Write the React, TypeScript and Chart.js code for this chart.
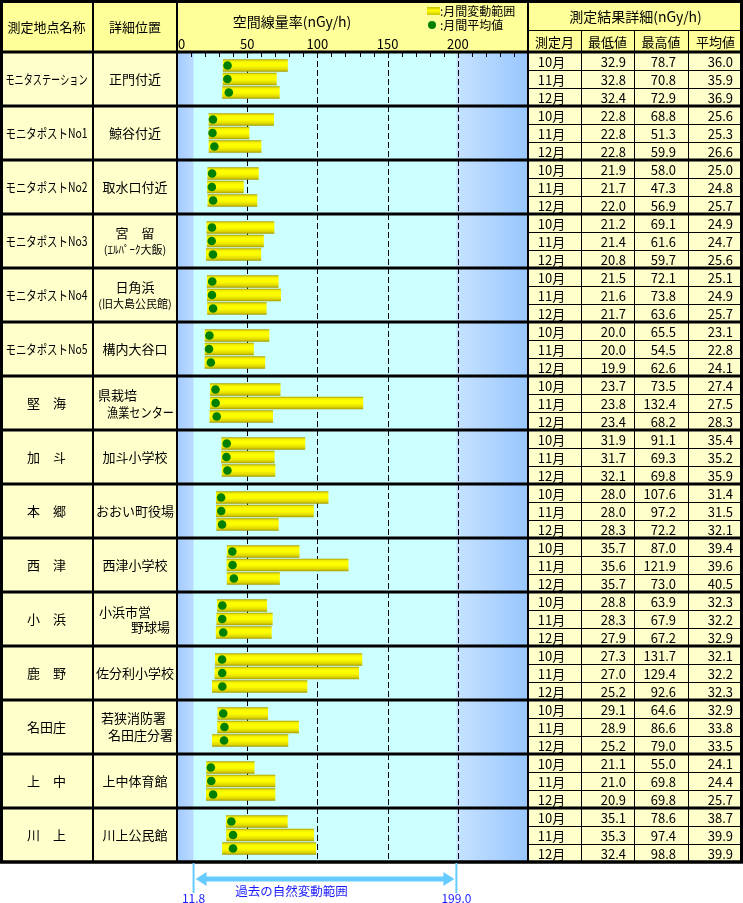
import { useEffect, useRef } from 'react'
import { Chart, registerables } from 'chart.js'

Chart.register(...registerables)

const STATIONS = [
  'モニタステーション', 'モニタポストNo1', 'モニタポストNo2', 'モニタポストNo3', 'モニタポストNo4',
  'モニタポストNo5', '堅　海', '加　斗', '本　郷', '西　津', '小　浜', '鹿　野', '名田庄', '上　中', '川　上',
]

const DETAILS = [
  ['正門付近'], ['鯨谷付近'], ['取水口付近'], ['宮　留', '(ｴﾙﾊﾟｰｸ大飯)'], ['日角浜', '(旧大島公民館)'],
  ['構内大谷口'], ['県栽培', '漁業センター'], ['加斗小学校'], ['おおい町役場'], ['西津小学校'],
  ['小浜市営', '野球場'], ['佐分利小学校'], ['若狭消防署', '名田庄分署'], ['上中体育館'], ['川上公民館'],
]

const MONTHS = ['10月', '11月', '12月']

// per station: 10月, 11月, 12月
const MIN_VALUES = [
  [32.9, 32.8, 32.4], [22.8, 22.8, 22.8], [21.9, 21.7, 22.0], [21.2, 21.4, 20.8], [21.5, 21.6, 21.7],
  [20.0, 20.0, 19.9], [23.7, 23.8, 23.4], [31.9, 31.7, 32.1], [28.0, 28.0, 28.3], [35.7, 35.6, 35.7],
  [28.8, 28.3, 27.9], [27.3, 27.0, 25.2], [29.1, 28.9, 25.2], [21.1, 21.0, 20.9], [35.1, 35.3, 32.4],
]
const MAX_VALUES = [
  [78.7, 70.8, 72.9], [68.8, 51.3, 59.9], [58.0, 47.3, 56.9], [69.1, 61.6, 59.7], [72.1, 73.8, 63.6],
  [65.5, 54.5, 62.6], [73.5, 132.4, 68.2], [91.1, 69.3, 69.8], [107.6, 97.2, 72.2], [87.0, 121.9, 73.0],
  [63.9, 67.9, 67.2], [131.7, 129.4, 92.6], [64.6, 86.6, 79.0], [55.0, 69.8, 69.8], [78.6, 97.4, 98.8],
]
const AVG_VALUES = [
  [36.0, 35.9, 36.9], [25.6, 25.3, 26.6], [25.0, 24.8, 25.7], [24.9, 24.7, 25.6], [25.1, 24.9, 25.7],
  [23.1, 22.8, 24.1], [27.4, 27.5, 28.3], [35.4, 35.2, 35.9], [31.4, 31.5, 32.1], [39.4, 39.6, 40.5],
  [32.3, 32.2, 32.9], [32.1, 32.2, 32.3], [32.9, 33.8, 33.5], [24.1, 24.4, 25.7], [38.7, 39.9, 39.9],
]

const X_TICKS = [0, 50, 100, 150, 200]
const MINOR_STEP = 10
const NATURAL_MIN = 11.8
const NATURAL_MAX = 199.0

// layout
const W = 743
const H = 903
const COL_NAME = 93
const COL_PLOT = 177
const COL_TABLE = 528
const COL_MIN = 581
const COL_MAX = 634
const COL_AVG = 688
const HEAD_SPLIT = 30
const FONT = '"Noto Sans CJK JP", "Noto Sans", sans-serif'
const HEAD_BG = '#ffff99'
const CELL_BG = '#ffffcc'
const PLOT_BG = '#ccffff'
const ANNO = '#66ccff'
const ANNO_TEXT = '#1a1aff'
const BAR_H = 12

// detail cell line layout per station
const DETAIL_STYLE = ['c', 'c', 'c', 'sub', 'sub', 'c', 'indent', 'c', 'c', 'c', 'right', 'c', 'stagger', 'c', 'c']

const SLOT = 0.25
const rowPos = (s: number, m: number) => s + (m - 1) * SLOT

function barFill(ctx: any) {
  const chart = ctx.chart
  const raw = ctx.raw
  const yScale = chart?.scales?.y
  if (!raw || !yScale) return '#f4f000'
  const yc = yScale.getPixelForValue(raw.y)
  if (!Number.isFinite(yc)) return '#f4f000'
  const g = chart.ctx.createLinearGradient(0, yc - BAR_H / 2, 0, yc + BAR_H / 2)
  g.addColorStop(0, '#b0a800')
  g.addColorStop(0.12, '#eeea00')
  g.addColorStop(0.3, '#ffff00')
  g.addColorStop(0.55, '#fbfb00')
  g.addColorStop(0.85, '#dcd400')
  g.addColorStop(1, '#a8a000')
  return g
}

const tablePlugin = {
  id: 'radTable',
  beforeDraw(chart: any) {
    const { ctx, chartArea: a, scales } = chart
    const x = scales.x
    ctx.save()
    ctx.fillStyle = '#ffffff'
    ctx.fillRect(0, 0, W, H)
    ctx.fillStyle = HEAD_BG
    ctx.fillRect(0, 0, W, a.top)
    ctx.fillStyle = CELL_BG
    ctx.fillRect(0, a.top, a.left, a.bottom - a.top)
    ctx.fillRect(a.right, a.top, W - a.right, a.bottom - a.top)
    ctx.fillStyle = PLOT_BG
    ctx.fillRect(a.left, a.top, a.right - a.left, a.bottom - a.top)

    const lo = x.getPixelForValue(NATURAL_MIN)
    const hi = x.getPixelForValue(NATURAL_MAX)
    let g = ctx.createLinearGradient(a.left, 0, lo, 0)
    g.addColorStop(0, '#a2caff')
    g.addColorStop(1, '#bcdcff')
    ctx.fillStyle = g
    ctx.fillRect(a.left, a.top, lo - a.left, a.bottom - a.top)
    g = ctx.createLinearGradient(hi, 0, a.right, 0)
    g.addColorStop(0, '#c6e2ff')
    g.addColorStop(1, '#98c6ff')
    ctx.fillStyle = g
    ctx.fillRect(hi, a.top, a.right - hi, a.bottom - a.top)

    // dashed grid
    ctx.strokeStyle = '#000'
    ctx.lineWidth = 1
    ctx.setLineDash([6, 3])
    for (const v of X_TICKS) {
      if (v === x.min) continue
      const px = Math.round(x.getPixelForValue(v)) + 0.5
      ctx.beginPath()
      ctx.moveTo(px, a.top)
      ctx.lineTo(px, a.bottom)
      ctx.stroke()
    }
    ctx.setLineDash([])
    // minor ticks
    for (let v = x.min + MINOR_STEP; v < x.max; v += MINOR_STEP) {
      const px = Math.round(x.getPixelForValue(v)) + 0.5
      ctx.beginPath()
      ctx.moveTo(px, a.top)
      ctx.lineTo(px, a.top + 5)
      ctx.stroke()
    }
    ctx.restore()
  },
  afterDraw(chart: any) {
    const { ctx, chartArea: a, scales } = chart
    const x = scales.x
    const y = scales.y
    ctx.save()
    ctx.fillStyle = '#000'
    ctx.textBaseline = 'middle'

    // header texts
    ctx.textAlign = 'center'
    ctx.font = `13px ${FONT}`
    ctx.fillText('測定地点名称', COL_NAME / 2, 27)
    ctx.fillText('詳細位置', (COL_NAME + COL_PLOT) / 2, 27)
    ctx.font = `14px ${FONT}`
    ctx.fillText('空間線量率(nGy/h)', a.left + 115, 22)
    ctx.fillText('測定結果詳細(nGy/h)', (COL_TABLE + W) / 2, 17)
    ctx.font = `13px ${FONT}`
    const subCols = [COL_TABLE, COL_MIN, COL_MAX, COL_AVG, W]
    const subHeads = ['測定月', '最低値', '最高値', '平均値']
    subHeads.forEach((t, i) => ctx.fillText(t, (subCols[i] + subCols[i + 1]) / 2, 42))

    // x tick labels
    ctx.font = `13px ${FONT}`
    for (const v of X_TICKS) {
      const px = x.getPixelForValue(v)
      if (v === x.min) {
        ctx.textAlign = 'left'
        ctx.fillText(String(v), px + 1, 44)
      } else {
        ctx.textAlign = 'center'
        ctx.fillText(String(v), px, 44)
      }
    }

    // legend
    const lx = 427
    const lg = ctx.createLinearGradient(0, 7, 0, 16)
    lg.addColorStop(0, '#c8c000')
    lg.addColorStop(0.4, '#ffff00')
    lg.addColorStop(1, '#c0b800')
    ctx.fillStyle = lg
    ctx.fillRect(lx, 7, 13, 8)
    ctx.fillStyle = '#008000'
    ctx.beginPath()
    ctx.arc(lx + 5, 25, 4, 0, Math.PI * 2)
    ctx.fill()
    ctx.fillStyle = '#000'
    ctx.textAlign = 'left'
    ctx.font = `12px ${FONT}`
    ctx.fillText(':月間変動範囲', lx + 13, 11)
    ctx.fillText(':月間平均値', lx + 13, 25)

    // station rows
    STATIONS.forEach((name, s) => {
      const yc = y.getPixelForValue(s)
      ctx.font = `13px ${FONT}`
      ctx.textAlign = 'center'
      ctx.fillText(name, COL_NAME / 2, yc, 82)

      const lines = DETAILS[s]
      const style = DETAIL_STYLE[s]
      const dc = (COL_NAME + COL_PLOT) / 2
      if (style === 'c') {
        ctx.fillText(lines[0], dc, yc, 78)
      } else if (style === 'sub') {
        ctx.fillText(lines[0], dc, yc - 8)
        ctx.font = `11px ${FONT}`
        ctx.fillText(lines[1], dc, yc + 9, 76)
      } else if (style === 'indent') {
        ctx.textAlign = 'left'
        ctx.fillText(lines[0], 98, yc - 8)
        ctx.fillText(lines[1], 107, yc + 9, 67)
      } else if (style === 'right') {
        ctx.textAlign = 'left'
        ctx.fillText(lines[0], 99, yc - 7)
        ctx.textAlign = 'right'
        ctx.fillText(lines[1], 170, yc + 8)
      } else {
        ctx.textAlign = 'left'
        ctx.fillText(lines[0], 101, yc - 9)
        ctx.fillText(lines[1], 108, yc + 8)
      }

      ctx.font = `13px ${FONT}`
      for (let m = 0; m < 3; m++) {
        const top = y.getPixelForValue(s - 0.5 + m / 3)
        const bot = y.getPixelForValue(s - 0.5 + (m + 1) / 3)
        const ty = (top + bot) / 2 + 1
        ctx.textAlign = 'center'
        ctx.fillText(MONTHS[m], (COL_TABLE + COL_MIN) / 2 - 3, ty)
        ctx.textAlign = 'right'
        ctx.fillText(MIN_VALUES[s][m].toFixed(1), COL_MAX - 8, ty)
        ctx.fillText(MAX_VALUES[s][m].toFixed(1), COL_AVG - 12, ty)
        ctx.fillText(AVG_VALUES[s][m].toFixed(1), W - 10, ty)
      }
    })

    // thin lines
    ctx.strokeStyle = '#000'
    ctx.lineWidth = 1
    ctx.beginPath()
    ctx.moveTo(COL_TABLE, HEAD_SPLIT + 0.5)
    ctx.lineTo(W, HEAD_SPLIT + 0.5)
    for (const cx of [COL_MIN, COL_MAX, COL_AVG]) {
      ctx.moveTo(cx + 0.5, HEAD_SPLIT)
      ctx.lineTo(cx + 0.5, a.bottom)
    }
    STATIONS.forEach((_, s) => {
      for (let m = 1; m < 3; m++) {
        const py = Math.round(y.getPixelForValue(s - 0.5 + m / 3)) + 0.5
        ctx.moveTo(a.right, py)
        ctx.lineTo(W, py)
      }
    })
    ctx.stroke()

    // thick lines
    ctx.lineWidth = 3
    ctx.beginPath()
    for (let s = 0; s <= STATIONS.length; s++) {
      const py = Math.round(y.getPixelForValue(s - 0.5))
      ctx.moveTo(0, py)
      ctx.lineTo(W, py)
    }
    ctx.stroke()
    ctx.lineWidth = 2
    ctx.beginPath()
    for (const cx of [COL_NAME, COL_PLOT, COL_TABLE]) {
      ctx.moveTo(cx, 0)
      ctx.lineTo(cx, a.bottom)
    }
    ctx.stroke()
    ctx.lineWidth = 3
    ctx.strokeRect(1.5, 1.5, W - 3, a.bottom - 1.5)

    // natural variation range annotation
    const lo = x.getPixelForValue(NATURAL_MIN)
    const hi = x.getPixelForValue(NATURAL_MAX)
    ctx.strokeStyle = ANNO
    ctx.lineWidth = 2
    ctx.beginPath()
    ctx.moveTo(lo, a.bottom + 1)
    ctx.lineTo(lo, a.bottom + 31)
    ctx.moveTo(hi, a.bottom + 1)
    ctx.lineTo(hi, a.bottom + 31)
    ctx.stroke()
    const ay = a.bottom + 17
    ctx.fillStyle = ANNO
    ctx.fillRect(lo + 10, ay - 2.5, hi - lo - 20, 5)
    ctx.beginPath()
    ctx.moveTo(lo + 2, ay)
    ctx.lineTo(lo + 13, ay - 7)
    ctx.lineTo(lo + 13, ay + 7)
    ctx.closePath()
    ctx.moveTo(hi - 2, ay)
    ctx.lineTo(hi - 13, ay - 7)
    ctx.lineTo(hi - 13, ay + 7)
    ctx.closePath()
    ctx.fill()

    ctx.fillStyle = ANNO_TEXT
    ctx.font = `12.5px ${FONT}`
    ctx.textAlign = 'center'
    ctx.fillText('過去の自然変動範囲', lo + 98, a.bottom + 29)
    ctx.font = `12px ${FONT}`
    ctx.fillText(NATURAL_MIN.toFixed(1), lo, a.bottom + 36)
    ctx.fillText(NATURAL_MAX.toFixed(1), hi, a.bottom + 36)
    ctx.restore()
  },
}

export default function App() {
  const canvasRef = useRef<HTMLCanvasElement>(null)
  const chartRef = useRef<Chart | null>(null)

  useEffect(() => {
    const el = canvasRef.current
    if (!el) return
    try { chartRef.current?.destroy() } catch { /* noop */ }

    const bars: any[] = []
    const dots: any[] = []
    STATIONS.forEach((_, s) => {
      for (let m = 0; m < 3; m++) {
        bars.push({ x: [MIN_VALUES[s][m], MAX_VALUES[s][m]], y: rowPos(s, m) })
        dots.push({ x: AVG_VALUES[s][m], y: rowPos(s, m) })
      }
    })

    chartRef.current = new Chart(el, {
      type: 'bar',
      data: {
        datasets: [
          {
            type: 'scatter',
            label: '月間平均値',
            data: dots,
            pointRadius: 4.3,
            backgroundColor: '#008000',
            borderWidth: 0,
            order: 0,
          } as any,
          {
            type: 'bar',
            label: '月間変動範囲',
            indexAxis: 'y',
            data: bars,
            backgroundColor: barFill,
            borderWidth: 0,
            borderSkipped: false,
            barThickness: BAR_H,
            order: 1,
          } as any,
        ],
      },
      options: {
        responsive: false,
        animation: false,
        events: [],
        layout: { padding: { left: COL_PLOT, right: W - COL_TABLE, top: 52, bottom: 41 } },
        plugins: { legend: { display: false }, tooltip: { enabled: false } },
        scales: {
          x: { type: 'linear', min: 0, max: 250, offset: false, grid: { offset: false }, display: false },
          y: {
            type: 'linear', min: -0.5, max: STATIONS.length - 0.5, reverse: true,
            offset: false, grid: { offset: false }, display: false,
          },
        },
      },
      plugins: [tablePlugin],
    })
    return () => { try { chartRef.current?.destroy() } catch { /* noop */ } }
  }, [])

  return (
    <div style={{ position: 'absolute', left: 0, top: 0, width: W, height: H }}>
      <canvas ref={canvasRef} width={W} height={H} />
    </div>
  )
}
